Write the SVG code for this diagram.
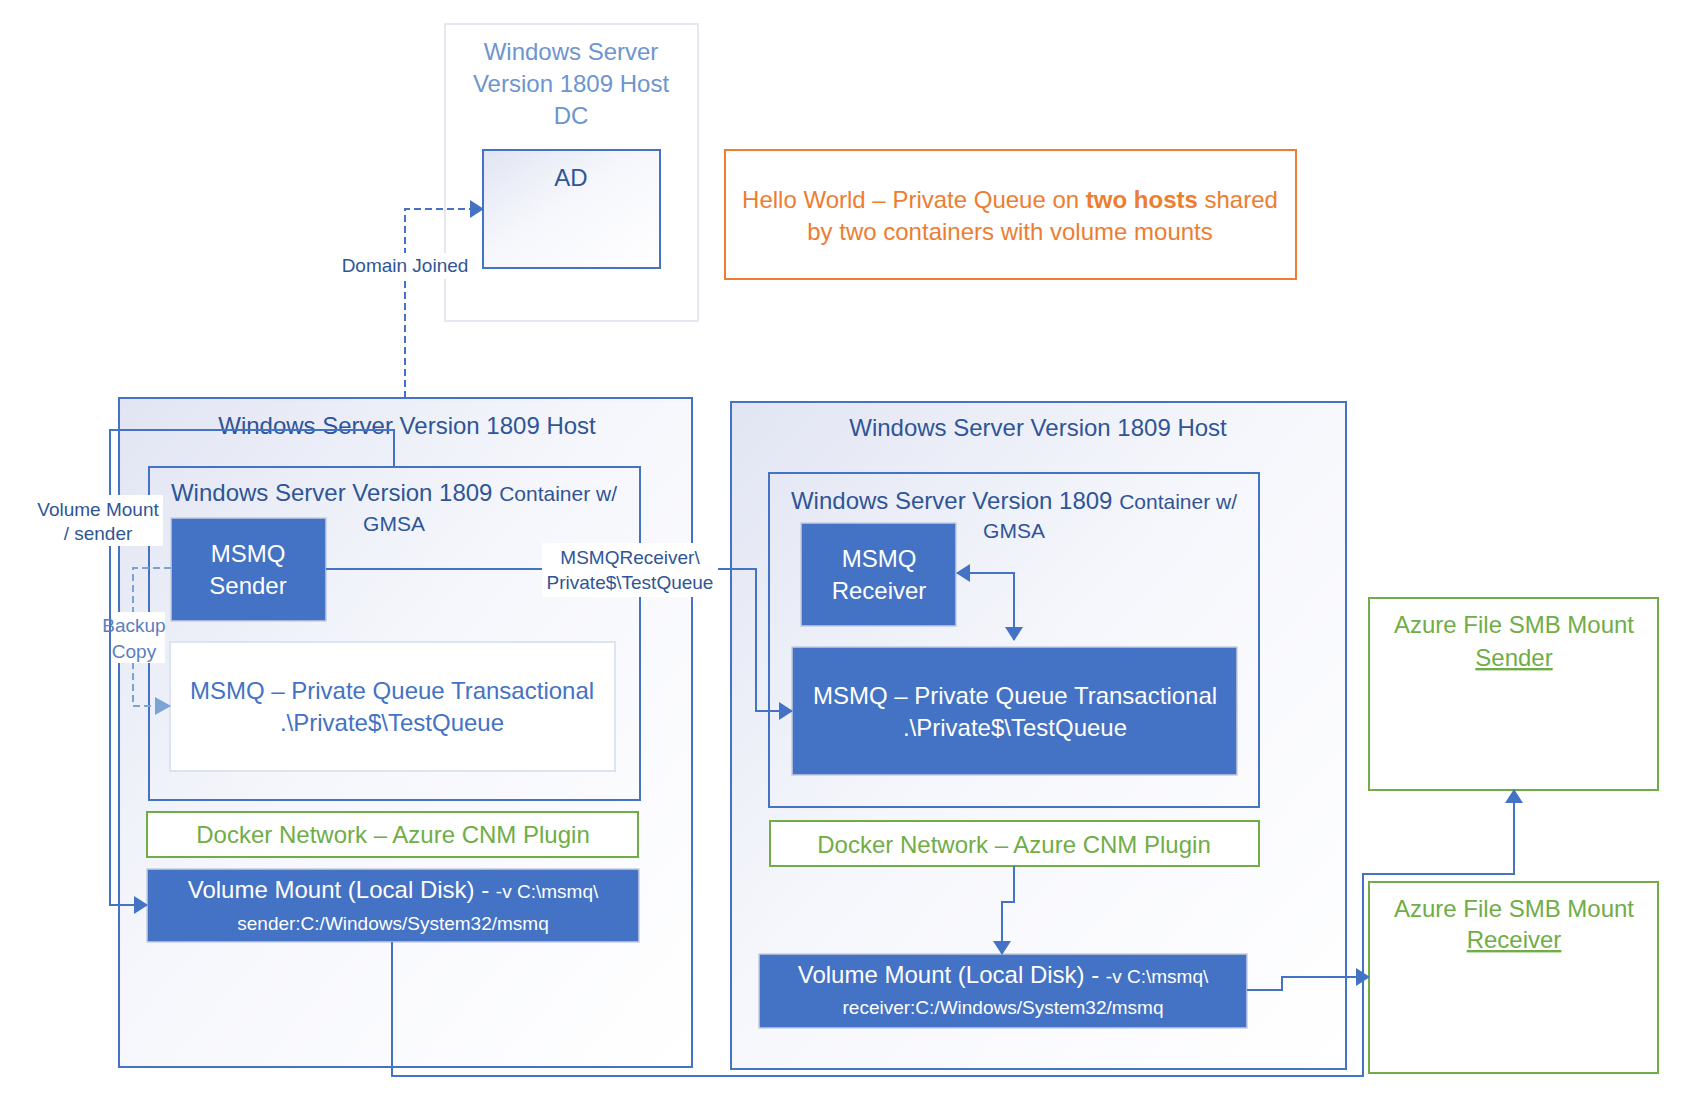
<svg xmlns="http://www.w3.org/2000/svg" width="1691" height="1112" viewBox="0 0 1691 1112">
<defs>
<linearGradient id="lav" x1="0" y1="0" x2="1" y2="1">
<stop offset="0" stop-color="#e1e5f3"/>
<stop offset="0.45" stop-color="#f6f7fc"/>
<stop offset="1" stop-color="#ffffff"/>
</linearGradient>
<marker id="arr" markerUnits="userSpaceOnUse" markerWidth="14" markerHeight="18" viewBox="0 0 14 18" refX="13" refY="9" orient="auto-start-reverse">
<path d="M0,0 L14,9 L0,18 z" fill="#4472c4"/>
</marker>
<marker id="arrL" markerUnits="userSpaceOnUse" markerWidth="16" markerHeight="18" viewBox="0 0 16 18" refX="15" refY="9" orient="auto">
<path d="M0,0 L16,9 L0,18 z" fill="#7ba3d4"/>
</marker>
</defs>
<style>
text{font-family:"Liberation Sans",Arial,sans-serif;text-anchor:middle}
.t24{font-size:24px}
.t21{font-size:21px}
.t19{font-size:19px}
.dk{fill:#2f5597}
.md{fill:#4472c4}
.wh{fill:#ffffff}
.gr{fill:#70ad47}
.lt{fill:#6d95cf}
.host{fill:url(#lav);stroke:#4472c4;stroke-width:2}
.cont{fill:none;stroke:#4472c4;stroke-width:2}
.solid{fill:#4472c4;stroke:#c5cde0;stroke-width:1.5}
.green{fill:#ffffff;stroke:#70ad47;stroke-width:2}
.con{fill:none;stroke:#4472c4;stroke-width:2}
.lbg{fill:#ffffff}
</style>

<g id="dc-host">
<rect x="445" y="24" width="253" height="297" fill="#ffffff" stroke="#e3e8f1" stroke-width="2"/>
<text class="t24 lt" x="571" y="60">Windows Server</text>
<text class="t24 lt" x="571" y="92">Version 1809 Host</text>
<text class="t24 lt" x="571" y="124">DC</text>
</g>

<g id="ad">
<rect x="483" y="150" width="177" height="118" fill="url(#lav)" stroke="#4472c4" stroke-width="2"/>
<text class="t24 dk" x="571" y="186">AD</text>
</g>

<g id="title">
<rect x="725" y="150" width="571" height="129" fill="#ffffff" stroke="#ed7d31" stroke-width="2"/>
<text class="t24" x="1010" y="208" fill="#ed7d31">Hello World – Private Queue on <tspan font-weight="bold">two hosts</tspan> shared</text>
<text class="t24" x="1010" y="240" fill="#ed7d31">by two containers with volume mounts</text>
</g>

<g id="left-host">
<rect class="host" x="119" y="398" width="573" height="669"/>
<text class="t24 dk" x="407" y="434">Windows Server Version 1809 Host</text>
</g>

<g id="left-container">
<rect class="cont" x="149" y="467" width="491" height="333"/>
<text class="dk" x="394" y="501"><tspan font-size="24">Windows Server Version 1809 </tspan><tspan font-size="21">Container w/</tspan></text>
<text class="t21 dk" x="394" y="531">GMSA</text>
</g>

<g id="msmq-sender">
<rect class="solid" x="171" y="518" width="155" height="103"/>
<text class="t24 wh" x="248" y="562">MSMQ</text>
<text class="t24 wh" x="248" y="594">Sender</text>
</g>

<g id="left-queue">
<rect x="170" y="642" width="445" height="129" fill="#ffffff" stroke="#dde4f1" stroke-width="2"/>
<text class="t24 md" x="392" y="699">MSMQ – Private Queue Transactional</text>
<text class="t24 md" x="392" y="731">.\Private$\TestQueue</text>
</g>

<g id="left-docker">
<rect class="green" x="147" y="812" width="491" height="45"/>
<text class="t24 gr" x="393" y="843">Docker Network – Azure CNM Plugin</text>
</g>

<g id="left-volume">
<rect class="solid" x="147" y="869" width="492" height="73"/>
<text class="wh" x="393" y="898"><tspan font-size="24">Volume Mount (Local Disk) - </tspan><tspan font-size="19">-v C:\msmq\</tspan></text>
<text class="t19 wh" x="393" y="930">sender:C:/Windows/System32/msmq</text>
</g>

<g id="right-host">
<rect class="host" x="731" y="402" width="615" height="667"/>
<text class="t24 dk" x="1038" y="436">Windows Server Version 1809 Host</text>
</g>

<g id="right-container">
<rect class="cont" x="769" y="473" width="490" height="334"/>
<text class="dk" x="1014" y="509"><tspan font-size="24">Windows Server Version 1809 </tspan><tspan font-size="21">Container w/</tspan></text>
<text class="t21 dk" x="1014" y="538">GMSA</text>
</g>

<g id="msmq-receiver">
<rect class="solid" x="801" y="523" width="155" height="103"/>
<text class="t24 wh" x="879" y="567">MSMQ</text>
<text class="t24 wh" x="879" y="599">Receiver</text>
</g>

<g id="right-queue">
<rect class="solid" x="792" y="647" width="445" height="128"/>
<text class="t24 wh" x="1015" y="704">MSMQ – Private Queue Transactional</text>
<text class="t24 wh" x="1015" y="736">.\Private$\TestQueue</text>
</g>

<g id="right-docker">
<rect class="green" x="770" y="821" width="489" height="45"/>
<text class="t24 gr" x="1014" y="853">Docker Network – Azure CNM Plugin</text>
</g>

<g id="right-volume">
<rect class="solid" x="759" y="954" width="488" height="74"/>
<text class="wh" x="1003" y="983"><tspan font-size="24">Volume Mount (Local Disk) - </tspan><tspan font-size="19">-v C:\msmq\</tspan></text>
<text class="t19 wh" x="1003" y="1014">receiver:C:/Windows/System32/msmq</text>
</g>

<g id="azure-sender">
<rect class="green" x="1369" y="598" width="289" height="192"/>
<text class="t24 gr" x="1514" y="633">Azure File SMB Mount</text>
<text class="t24 gr" x="1514" y="666" text-decoration="underline">Sender</text>
</g>

<g id="azure-receiver">
<rect class="green" x="1369" y="882" width="289" height="191"/>
<text class="t24 gr" x="1514" y="917">Azure File SMB Mount</text>
<text class="t24 gr" x="1514" y="948" text-decoration="underline">Receiver</text>
</g>

<g id="connectors">
<polyline class="con" points="405,398 405,209 483,209" stroke-dasharray="7,4" marker-end="url(#arr)"/>
<polyline class="con" points="394,467 394,430 110,430 110,905 147,905" marker-end="url(#arr)"/>
<polyline points="171,568 133,568 133,706 170,706" fill="none" stroke="#7ba3d4" stroke-width="2" stroke-dasharray="7,4" marker-end="url(#arrL)"/>
<polyline class="con" points="326,569 756,569 756,711 792,711" marker-end="url(#arr)"/>
<polyline class="con" points="957,573 1014,573 1014,640" marker-start="url(#arr)" marker-end="url(#arr)"/>
<polyline class="con" points="1014,866 1014,902 1002,902 1002,954" marker-end="url(#arr)"/>
<polyline class="con" points="1247,990 1282,990 1282,977 1369,977" marker-end="url(#arr)"/>
<polyline class="con" points="392,942 392,1076 1363,1076 1363,874 1514,874 1514,790" marker-end="url(#arr)"/>

<rect class="lbg" x="340" y="253" width="131" height="26"/>
<text class="t19 dk" x="405" y="272">Domain Joined</text>

<rect class="lbg" x="30" y="495" width="133" height="51"/>
<text class="t19 dk" x="98" y="516">Volume Mount</text>
<text class="t19 dk" x="98" y="540">/ sender</text>

<rect class="lbg" x="112" y="612" width="53" height="51"/>
<text class="t19" x="134" y="632" fill="#5a7ebf">Backup</text>
<text class="t19" x="134" y="658" fill="#5a7ebf">Copy</text>

<rect class="lbg" x="542" y="543" width="176" height="54"/>
<text class="t19 dk" x="630" y="564">MSMQReceiver\</text>
<text class="t19 dk" x="630" y="589">Private$\TestQueue</text>
</g>
</svg>
